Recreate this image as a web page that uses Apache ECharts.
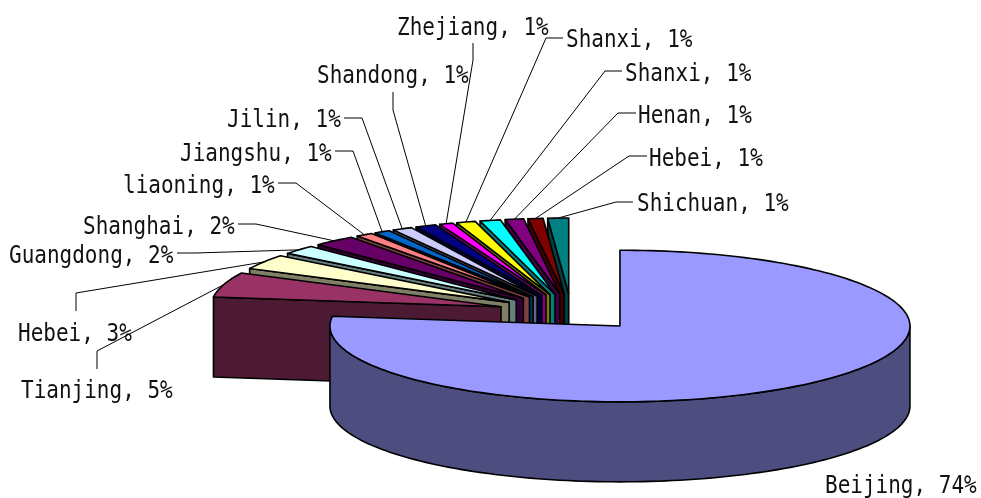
<!DOCTYPE html>
<html>
<head>
<meta charset="utf-8">
<style>html,body{margin:0;padding:0;background:#fff}#c{width:981px;height:498px}</style>
<script src="https://cdn.jsdelivr.net/npm/echarts@6/dist/echarts.min.js"></script>
</head>
<body>
<div id="c"></div>
<script>
// Data, clockwise from 12 o'clock
const provinces = ['Beijing','Tianjing','Hebei','Guangdong','Shanghai','liaoning','Jiangshu','Jilin','Shandong','Zhejiang','Shanxi','Shanxi','Henan','Hebei','Shichuan'];
// percentages as printed on the labels
const shareLabels = [74,5,3,2,2,1,1,1,1,1,1,1,1,1,1];
// slice sizes (labels are rounded)
const sliceSizes = [74,5.08,3.05,1.87,2.29,0.92,0.87,1.07,1.12,0.73,1.02,1.09,0.99,0.8,1.11];
const topColors = ['#9999FF','#993366','#FFFFCC','#CCFFFF','#660066','#FF8080','#0066CC','#CCCCFF','#000080','#FF00FF','#FFFF00','#00FFFF','#800080','#800000','#008080'];
const sideColors = ['#4D4D80','#4D1A33','#808066','#668080','#330033','#804040','#003366','#666680','#000040','#800080','#808000','#008080','#400040','#400000','#004040'];

// Layout: text left edge, text centre y, leader bend start and bend end
const labelLayout = [
  {x:825,y:487},
  {x:21,y:392,line:[[97,369],[97,351]]},
  {x:18,y:335,line:[[76,311],[76,293]]},
  {x:9,y:257,line:[[177,253],[195,253]]},
  {x:83,y:228,line:[[238,224],[256,224]]},
  {x:123,y:187,line:[[278,183],[296,183]]},
  {x:180,y:155,line:[[335,151],[353,151]]},
  {x:227,y:121,line:[[344,118],[362,118]]},
  {x:317,y:77,line:[[393,92],[393,110]]},
  {x:397,y:29,line:[[473,43],[473,60]]},
  {x:566,y:41,line:[[563,38],[546,38]]},
  {x:625,y:75,line:[[622,71],[605,71]]},
  {x:638,y:117,line:[[636,113],[618,113]]},
  {x:649,y:160,line:[[647,156],[629,156]]},
  {x:637,y:205,line:[[633,202],[616,202]]}
];
const pie = {cx:571.4, cy:312.2, rx:290, ry:75.8, depth:80, explodeX:73.6, explodeY:18.4};
const total = sliceSizes.reduce((a,b)=>a+b,0);

const rad = d => d*Math.PI/180;
const angles = [];
sliceSizes.reduce((acc,v,i)=>{angles[i]=[acc,acc+v/total*360];return acc+v/total*360;},0);

function renderItem(params, api){
  const i = params.dataIndex;
  const [a0,a1] = angles[i];
  const mid = (a0+a1)/2;
  const tip = [pie.cx+pie.explodeX*Math.sin(rad(mid)), pie.cy-pie.explodeY*Math.cos(rad(mid))];
  const rim = a => [tip[0]+pie.rx*Math.sin(rad(a)), tip[1]-pie.ry*Math.cos(rad(a))];
  const down = p => [p[0],p[1]+pie.depth];
  const arc = (s,e) => {const n=Math.max(2,Math.ceil((e-s)/1.5)),o=[];for(let k=0;k<=n;k++)o.push(rim(s+(e-s)*k/n));return o;};
  const z = 100-i*5 + (i===0?100:0);
  const st = {stroke:'#000',lineWidth:1.6,lineJoin:'round'};
  const kids = [];
  const poly = (pts,fill,zz)=>kids.push({type:'polygon',z2:zz,shape:{points:pts},style:Object.assign({fill},st),silent:true});
  if(Math.sin(rad(a0))<-1e-6) poly([tip,rim(a0),down(rim(a0)),down(tip)],sideColors[i],z);
  if(Math.sin(rad(a1))>1e-6) poly([tip,rim(a1),down(rim(a1)),down(tip)],sideColors[i],z);
  const fs=Math.max(a0,90), fe=Math.min(a1,270);
  if(fe>fs){const t=arc(fs,fe);poly(t.concat(t.map(down).reverse()),sideColors[i],z+1);}
  poly([tip].concat(arc(a0,a1)),topColors[i],z+2);

  const lab = labelLayout[i];
  if(lab.line){
    const end = rim(mid);
    kids.push({type:'polyline',z2:500,shape:{points:lab.line.concat([end])},style:{fill:'none',stroke:'#000',lineWidth:1},silent:true});
  }
  kids.push({type:'text',z2:510,x:lab.x,y:lab.y,scaleY:1.15,silent:true,
    style:{x:0,y:0,text:provinces[i]+', '+shareLabels[i]+'%',fill:'#111',
      font:'21px "DejaVu Sans Mono"',align:'left',verticalAlign:'middle'}});
  return {type:'group',children:kids};
}

const chart = echarts.init(document.getElementById('c'),null,{renderer:'canvas'});
chart.setOption({
  animation:false,
  backgroundColor:'#fff',
  series:[{type:'custom',coordinateSystem:'none',renderItem,silent:true,
    data:sliceSizes.map((v,i)=>({name:provinces[i],value:v}))}]
});
</script>
</body>
</html>
